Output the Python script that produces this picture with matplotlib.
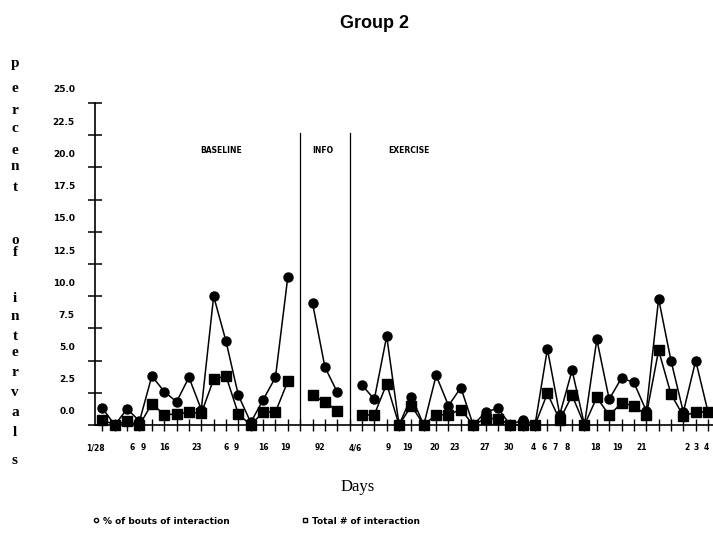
import numpy as np
import matplotlib
matplotlib.use("Agg")
import matplotlib.pyplot as plt
import matplotlib.transforms as mtransforms
from matplotlib.lines import Line2D

nan = np.nan
# ---- data ----
day_index = list(range(50))
pct_bouts = [1.3, 0, 1.25, 0.3, 3.8, 2.6, 1.8, 3.7, 1.2, 10.0,
             6.5, 2.3, 0.2, 1.95, 3.7, 11.5, nan, 9.45, 4.5, 2.55,
             nan, 3.1, 2.0, 6.9, 0, 2.2, 0, 3.85, 1.5, 2.9,
             0, 1.0, 1.3, 0, 0.4, 0, 5.9, 0.8, 4.25, 0,
             6.65, 2.0, 3.65, 3.3, 1.1, 9.8, 5.0, 1.0, 5.0, 1.0]
total_inter = [0.4, 0, 0.3, 0, 1.65, 0.8, 0.85, 1.0, 0.9, 3.55,
               3.8, 0.85, 0, 1.0, 1.0, 3.4, nan, 2.3, 1.8, 1.1,
               nan, 0.75, 0.8, 3.2, 0, 1.5, 0, 0.8, 0.8, 1.2,
               0, 0.5, 0.5, 0, 0, 0, 2.45, 0.4, 2.3, 0,
               2.15, 0.75, 1.7, 1.5, 0.75, 5.8, 2.4, 0.7, 1.0, 1.0]
date_labels = ["1/28", "6", "9", "16", "23", "6", "9", "16", "19", "92",
               "4/6", "9", "19", "20", "23", "27", "30", "4", "6", "7",
               "8", "18", "19", "21", "2", "3", "4"]
date_pos = [-0.55, 2.4, 3.3, 5.0, 7.6, 10.0, 10.8, 13.0, 14.8, 17.6,
            20.5, 23.1, 24.7, 26.9, 28.5, 30.9, 32.9, 34.9, 35.7, 36.6,
            37.6, 39.9, 41.7, 43.6, 47.3, 48.0, 48.85]
phase_names = ["BASELINE", "INFO", "EXERCISE"]
phase_label_x = [9.6, 17.8, 24.8]
phase_bounds = [16, 20]
y_ticks = [0, 2.5, 5, 7.5, 10, 12.5, 15, 17.5, 20, 22.5, 25]
series_names = ["% of bouts of interaction", "Total # of interaction"]
ylabel_letters = list("percent") + list("of") + list("intervals")
ylabel_ypix = [63, 88, 110, 128, 150, 167, 187, 240, 252,
               298, 317, 337, 353, 373, 393, 413, 433, 460]

W, H = 713, 534
fig = plt.figure(figsize=(W / 100, H / 100), dpi=100)
ax = fig.add_axes([95 / W, (H - 425) / H, 618 / W, 322 / H])
ax.set_xlim(-0.6, 49.4)
ax.set_ylim(0, 25)

for s in ["top", "right"]:
    ax.spines[s].set_visible(False)
for s in ["left", "bottom"]:
    ax.spines[s].set_linewidth(1.2)

# series
ax.plot(day_index, pct_bouts, color="black", lw=1.1, marker="o", ms=6.5,
        clip_on=False, zorder=3)
ax.plot(day_index, total_inter, color="black", lw=1.1, marker="s", ms=6.5,
        clip_on=False, zorder=3)

# phase lines and labels
for b in phase_bounds:
    ax.plot([b, b], [0, 22.7], color="black", lw=0.9)
for name, px in zip(phase_names, phase_label_x):
    ax.text(px, 21.3, name, ha="center", va="center", fontsize=5.5,
            fontweight="bold")

# y ticks
ax.set_yticks(y_ticks)
ax.set_yticklabels([f"{v:.1f}" for v in y_ticks])
ax.tick_params(axis="y", direction="inout", length=10, width=1.1,
               pad=9.5, labelsize=6.5)
offset = mtransforms.ScaledTranslation(0, 0.14, fig.dpi_scale_trans)
for t in ax.yaxis.get_major_ticks():
    t.label1.set_transform(t.label1.get_transform() + offset)
    t.label1.set_fontweight("bold")

# x ticks
ax.xaxis.remove_overlapping_locs = False
ax.set_xticks(day_index)
ax.set_xticklabels([])
ax.tick_params(axis="x", which="major", direction="inout", length=9,
               width=1.0)
ax.set_xticks(date_pos, minor=True)
ax.set_xticklabels(date_labels, minor=True, fontsize=5.5, fontweight="bold")
ax.tick_params(axis="x", which="minor", length=0, pad=13)

# titles
fig.text(375 / W, 1 - 23 / H, "Group 2", ha="center", va="center",
         fontsize=13, fontweight="bold", family="Liberation Sans")
fig.text(358 / W, 1 - 487 / H, "Days", ha="center", va="center",
         fontsize=12, family="Liberation Serif")
for ch, yp in zip(ylabel_letters, ylabel_ypix):
    fig.text(15 / W, 1 - yp / H, ch, ha="center", va="center",
             fontsize=11, family="Liberation Serif", fontweight="bold")

handles = [Line2D([], [], marker="o", mfc="none", mec="black", ls="none", ms=3),
           Line2D([], [], marker="s", mfc="none", mec="black", ls="none", ms=3)]
fig.legend(handles, series_names, loc="center left",
           bbox_to_anchor=(84 / W, 1 - 521 / H), ncol=2, frameon=False,
           prop={"size": 6.5, "weight": "bold"}, handlelength=0.8,
           handletextpad=0.4, columnspacing=7.9)

fig.savefig("out.png", dpi=100)
